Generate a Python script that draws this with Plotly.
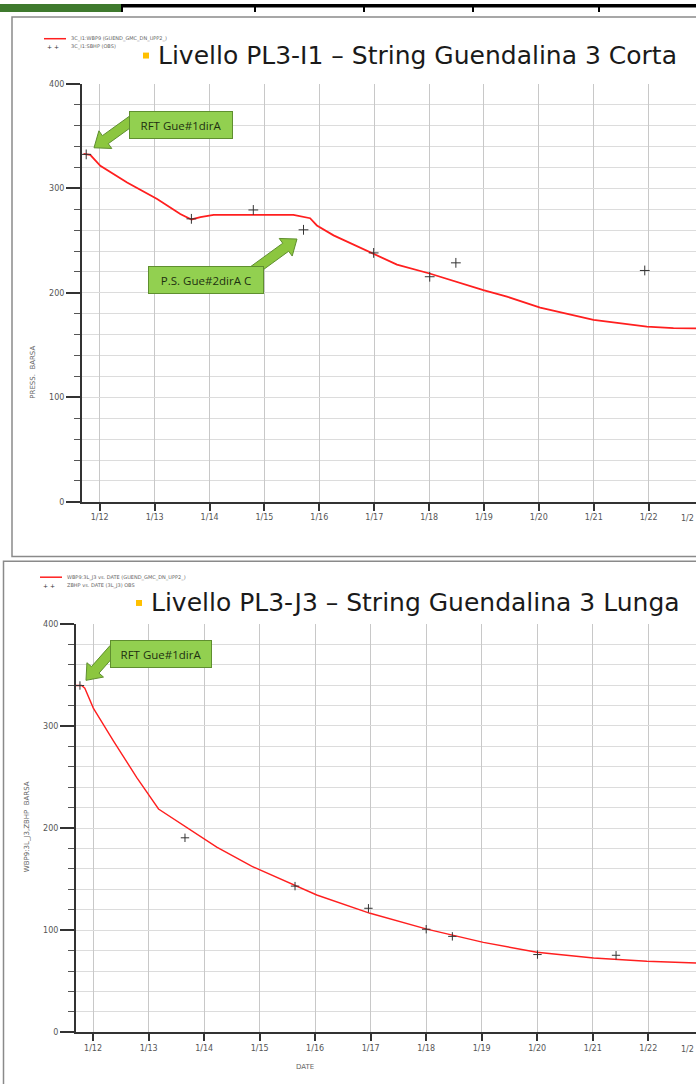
import plotly.graph_objects as go
import math

W, H = 696, 1084

# ---------------- DATA ----------------
# Panel 1 : Livello PL3-I1 - String Guendalina 3 Corta
sim1_dates = ["2011-09-15", "2011-10-30", "2012-01-05", "2012-07-01", "2013-01-17", "2013-06-20",
              "2013-09-02", "2013-11-01", "2014-01-28", "2014-10-20", "2015-07-13", "2015-11-01",
              "2015-12-16", "2016-04-05", "2016-12-27", "2017-06-01", "2018-01-04", "2018-05-21",
              "2018-12-28", "2019-06-03", "2020-01-10", "2020-12-30", "2021-12-20", "2022-06-15",
              "2022-11-12"]
sim1_press = [333, 332, 321.5, 305.6, 289.8, 275.5, 270.2, 272.4, 274.6, 274.6, 274.6, 271.4,
              264.5, 255, 237, 227, 218.5, 212.2, 202.7, 196.4, 185.9, 174.2, 167.6, 166.3, 166]
obs1_dates = ["2011-10-03", "2013-09-02", "2014-10-19", "2015-09-18", "2016-12-28", "2018-01-05",
              "2018-06-28", "2021-12-06"]
obs1_press = [332.5, 270.8, 279.3, 260.3, 238.2, 215.4, 228.7, 221.4]

# Panel 2 : Livello PL3-J3 - String Guendalina 3 Lunga
sim2_dates = ["2011-09-11", "2011-10-18", "2011-11-08", "2012-01-03", "2012-05-15", "2012-10-15",
              "2013-03-07", "2013-08-17", "2014-03-25", "2014-11-09", "2015-08-22", "2016-01-12",
              "2016-12-28", "2018-01-05", "2019-01-12", "2019-12-30", "2021-01-06", "2021-12-23",
              "2022-11-11"]
sim2_press = [339.6, 339.6, 336.9, 317.5, 285.1, 249.5, 218.7, 202.5, 181.4, 162.7, 143.5, 134.5,
              116.6, 101.1, 88.1, 78.4, 72.9, 69.7, 68]
obs2_dates = ["2011-10-07", "2013-08-28", "2015-08-22", "2016-12-17", "2018-01-01", "2018-06-22",
              "2020-01-03", "2021-06-03"]
obs2_press = [339.6, 190.5, 143.2, 121.5, 101, 94, 76.2, 75.5]

titles = ["Livello PL3-I1 – String Guendalina 3 Corta", "Livello PL3-J3 – String Guendalina 3 Lunga"]
legend1 = ["3C_I1:WBP9 (GUEND_GMC_DN_UPP2_)", "3C_I1:SBHP (OBS)"]
legend2 = ["WBP9:3L_J3 vs. DATE (GUEND_GMC_DN_UPP2_)", "ZBHP vs. DATE (3L_J3) OBS"]
ytitles = ["PRESS.  BARSA", "WBP9:3L_J3,ZBHP  BARSA"]
callouts = ["RFT Gue#1dirA", "P.S. Gue#2dirA C", "RFT Gue#1dirA"]

# ---------------- helpers ----------------
def fx(x):
    return x / W

def fy(y):
    return 1 - y / H

RED = "#ff1f1f"
GRID = "#c8c8c8"
AX = "#333333"
TICKF = dict(family="DejaVu Sans", size=8, color="#555555")

fig = go.Figure()
fig.add_trace(go.Scatter(x=sim1_dates, y=sim1_press, mode="lines", line=dict(color=RED, width=1.8),
                         xaxis="x", yaxis="y", name=legend1[0]))
fig.add_trace(go.Scatter(x=obs1_dates, y=obs1_press, mode="markers",
                         marker=dict(symbol="cross-thin", size=7, line=dict(color="#333", width=1)),
                         xaxis="x", yaxis="y", name=legend1[1]))
fig.add_trace(go.Scatter(x=sim2_dates, y=sim2_press, mode="lines", line=dict(color=RED, width=1.4),
                         xaxis="x2", yaxis="y2", name=legend2[0]))
fig.add_trace(go.Scatter(x=obs2_dates, y=obs2_press, mode="markers",
                         marker=dict(symbol="cross-thin", size=6, line=dict(color="#333", width=1)),
                         xaxis="x2", yaxis="y2", name=legend2[1]))

def xax(domain, rng, anchor):
    return dict(type="date", domain=domain, range=rng, anchor=anchor,
                tick0="2012-01-01", dtick="M12", tickformat="%-m/%y",
                ticks="outside", ticklen=7, tickwidth=1.5, tickcolor=AX,
                showgrid=True, gridcolor=GRID, gridwidth=1,
                showline=True, linecolor=AX, linewidth=2, zeroline=False,
                tickfont=TICKF)

def yax(domain, anchor):
    return dict(domain=domain, range=[0, 400], anchor=anchor, dtick=100,
                ticks="outside", ticklen=14, tickwidth=2, tickcolor=AX,
                showgrid=True, gridcolor="#dcdcdc", gridwidth=1,
                minor=dict(dtick=20, ticks="outside", ticklen=6, tickwidth=1, tickcolor="#555",
                           showgrid=True, gridcolor="#dcdcdc", gridwidth=1),
                showline=True, linecolor=AX, linewidth=2, zeroline=False,
                tickfont=TICKF)

fig.update_layout(
    width=W, height=H, margin=dict(l=0, r=0, t=0, b=0),
    paper_bgcolor="white", plot_bgcolor="white", showlegend=False,
    xaxis=xax([fx(82), 1], ["2011-09-05", "2022-11-12"], "y"),
    yaxis=yax([fy(502), fy(80.5)], "x"),
    xaxis2=xax([fx(76), 1], ["2011-09-11", "2022-11-11"], "y2"),
    yaxis2=yax([fy(1037), fy(625)], "x2"),
)

shapes = []
annotations = []

# top table strip
shapes.append(dict(type="rect", xref="paper", yref="paper", x0=fx(122), x1=1, y0=fy(3.5), y1=1,
                   fillcolor="black", line=dict(width=0)))
shapes.append(dict(type="rect", xref="paper", yref="paper", x0=0, x1=fx(122), y0=fy(8), y1=1,
                   fillcolor="#3f7a2e", line=dict(width=0)))
for sx in [122, 255, 364, 473, 599]:
    shapes.append(dict(type="line", xref="paper", yref="paper", x0=fx(sx), x1=fx(sx), y0=fy(8), y1=1,
                       line=dict(color="black", width=2)))

# panel frames
shapes.append(dict(type="rect", xref="paper", yref="paper", x0=fx(12), x1=fx(702), y0=fy(557), y1=fy(13),
                   line=dict(color="#8a8a8a", width=1.5), fillcolor="rgba(0,0,0,0)", layer="below"))
shapes.append(dict(type="rect", xref="paper", yref="paper", x0=fx(3.5), x1=fx(702), y0=fy(1090), y1=fy(562),
                   line=dict(color="#8a8a8a", width=1.5), fillcolor="rgba(0,0,0,0)", layer="below"))

# titles with yellow bullets
for (bx, by, tx, t) in [(146, 52, 156, titles[0]), (139, 604, 149, titles[1])]:
    shapes.append(dict(type="rect", xref="paper", yref="paper", x0=fx(bx - 3), x1=fx(bx + 3),
                       y0=fy(by + 3), y1=fy(by - 3), fillcolor="#ffc000", line=dict(width=0)))
    annotations.append(dict(xref="paper", yref="paper", x=fx(tx), y=fy(by), text=t, showarrow=False,
                            xanchor="left", yanchor="middle",
                            font=dict(family="DejaVu Sans", size=25, color="#1a1a1a")))

# mini legends
for (lx, ly, labels) in [(44, 35, legend1), (40, 578, legend2)]:
    shapes.append(dict(type="line", xref="paper", yref="paper", x0=fx(lx), x1=fx(lx + 22),
                       y0=fy(ly), y1=fy(ly), line=dict(color=RED, width=1.5)))
    annotations.append(dict(xref="paper", yref="paper", x=fx(lx + 25), y=fy(ly), text=labels[0],
                            showarrow=False, xanchor="left", yanchor="middle",
                            font=dict(family="DejaVu Sans", size=5, color="#666")))
    annotations.append(dict(xref="paper", yref="paper", x=fx(lx + 1), y=fy(ly + 8), text="+ +",
                            showarrow=False, xanchor="left", yanchor="middle",
                            font=dict(family="DejaVu Sans", size=6, color="#333")))
    annotations.append(dict(xref="paper", yref="paper", x=fx(lx + 25), y=fy(ly + 8), text=labels[1],
                            showarrow=False, xanchor="left", yanchor="middle",
                            font=dict(family="DejaVu Sans", size=5, color="#666")))

# y axis titles
annotations.append(dict(xref="paper", yref="paper", x=fx(27), y=fy(343), text=ytitles[0], textangle=-90,
                        showarrow=False, font=dict(family="DejaVu Sans", size=7, color="#666")))
annotations.append(dict(xref="paper", yref="paper", x=fx(21), y=fy(878), text=ytitles[1], textangle=-90,
                        showarrow=False, font=dict(family="DejaVu Sans", size=7, color="#666")))
# x axis title (panel 2)
annotations.append(dict(xref="paper", yref="paper", x=fx(305), y=fy(1078), text="DATE",
                        showarrow=False, font=dict(family="DejaVu Sans", size=7, color="#666")))
# partially visible tick label at the right edge (image is cropped there)
annotations.append(dict(xref="paper", yref="paper", x=1, y=fy(519), text="1/2", showarrow=False,
                        xanchor="right", yanchor="middle", font=TICKF))
annotations.append(dict(xref="paper", yref="paper", x=1, y=fy(1054), text="1/2", showarrow=False,
                        xanchor="right", yanchor="middle", font=TICKF))

# block arrows
def block_arrow(tail, tip, sw=5, hw=11, hl=14):
    (x1, y1), (x2, y2) = tail, tip
    L = math.hypot(x2 - x1, y2 - y1)
    ux, uy = (x2 - x1) / L, (y2 - y1) / L
    nx, ny = -uy, ux
    bx, by = x2 - ux * hl, y2 - uy * hl
    pts = [(x1 + nx * sw, y1 + ny * sw), (bx + nx * sw, by + ny * sw), (bx + nx * hw, by + ny * hw),
           (x2, y2), (bx - nx * hw, by - ny * hw), (bx - nx * sw, by - ny * sw),
           (x1 - nx * sw, y1 - ny * sw)]
    path = "M " + " L ".join(f"{fx(p[0]):.5f},{fy(p[1]):.5f}" for p in pts) + " Z"
    return dict(type="path", xref="paper", yref="paper", path=path,
                fillcolor="#8cc63f", line=dict(color="#5f8f2f", width=1))

shapes.append(block_arrow((134, 116), (94, 145)))
shapes.append(block_arrow((252, 270), (297, 237)))
shapes.append(block_arrow((114, 650), (86, 682)))

# callout boxes
for (cx, cy, w, t) in [(181, 122.5, 98, callouts[0]), (205.5, 278, 110, callouts[1]), (160.5, 655, 96, callouts[2])]:
    annotations.append(dict(xref="paper", yref="paper", x=fx(cx), y=fy(cy), text=t, showarrow=False,
                            xanchor="center", yanchor="middle", width=w, height=22, borderpad=2,
                            bgcolor="#92d050", bordercolor="#5f8f2f", borderwidth=1,
                            font=dict(family="Open Sans", size=11.5, color="#1e3010")))

fig.update_layout(shapes=shapes, annotations=annotations)
fig.write_html("out.html")
